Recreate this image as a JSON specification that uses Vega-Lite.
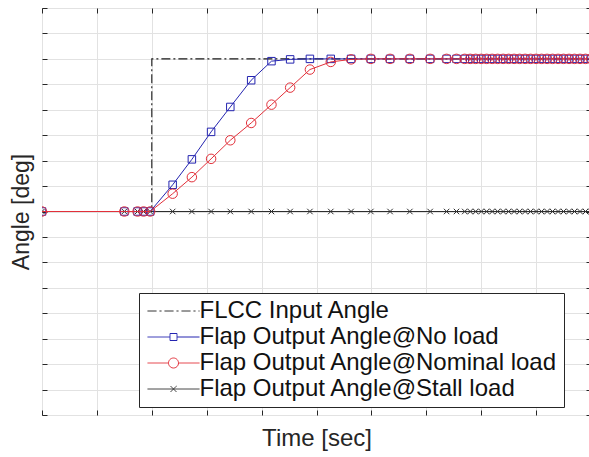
{
  "$schema": "https://vega.github.io/schema/vega-lite/v6.json",
  "width": 549,
  "height": 407,
  "autosize": "none",
  "padding": {"left": 42, "top": 8, "right": 0, "bottom": 42},
  "background": "white",
  "config": {
    "view": {"stroke": "#262626", "strokeWidth": 1},
    "axis": {"labels": false, "domain": false, "tickColor": "#262626", "tickSize": -5, "tickWidth": 1}
  },
  "datasets": {
    "flcc": [
      {"t": 0, "v": 0, "s": "FLCC Input Angle"},
      {"t": 2, "v": 0, "s": "FLCC Input Angle"},
      {"t": 2, "v": 6, "s": "FLCC Input Angle"},
      {"t": 10, "v": 6, "s": "FLCC Input Angle"}
    ],
    "resp": [
      {"t": 0, "s": "Flap Output Angle@No load", "v": 0},
      {"t": 1.5, "s": "Flap Output Angle@No load", "v": 0},
      {"t": 1.74, "s": "Flap Output Angle@No load", "v": 0},
      {"t": 1.85, "s": "Flap Output Angle@No load", "v": 0},
      {"t": 1.97, "s": "Flap Output Angle@No load", "v": 0},
      {"t": 2.38, "s": "Flap Output Angle@No load", "v": 1.05},
      {"t": 2.73, "s": "Flap Output Angle@No load", "v": 2.05},
      {"t": 3.08, "s": "Flap Output Angle@No load", "v": 3.13},
      {"t": 3.43, "s": "Flap Output Angle@No load", "v": 4.11},
      {"t": 3.81, "s": "Flap Output Angle@No load", "v": 5.16},
      {"t": 4.18, "s": "Flap Output Angle@No load", "v": 5.91},
      {"t": 4.52, "s": "Flap Output Angle@No load", "v": 5.98},
      {"t": 4.88, "s": "Flap Output Angle@No load", "v": 6},
      {"t": 5.26, "s": "Flap Output Angle@No load", "v": 6},
      {"t": 5.63, "s": "Flap Output Angle@No load", "v": 6},
      {"t": 5.99, "s": "Flap Output Angle@No load", "v": 6},
      {"t": 6.34, "s": "Flap Output Angle@No load", "v": 6},
      {"t": 6.7, "s": "Flap Output Angle@No load", "v": 6},
      {"t": 7.07, "s": "Flap Output Angle@No load", "v": 6},
      {"t": 7.37, "s": "Flap Output Angle@No load", "v": 6},
      {"t": 7.55, "s": "Flap Output Angle@No load", "v": 6},
      {"t": 7.7, "s": "Flap Output Angle@No load", "v": 6},
      {"t": 7.8, "s": "Flap Output Angle@No load", "v": 6},
      {"t": 7.9, "s": "Flap Output Angle@No load", "v": 6},
      {"t": 8.0, "s": "Flap Output Angle@No load", "v": 6},
      {"t": 8.1, "s": "Flap Output Angle@No load", "v": 6},
      {"t": 8.2, "s": "Flap Output Angle@No load", "v": 6},
      {"t": 8.3, "s": "Flap Output Angle@No load", "v": 6},
      {"t": 8.4, "s": "Flap Output Angle@No load", "v": 6},
      {"t": 8.5, "s": "Flap Output Angle@No load", "v": 6},
      {"t": 8.6, "s": "Flap Output Angle@No load", "v": 6},
      {"t": 8.7, "s": "Flap Output Angle@No load", "v": 6},
      {"t": 8.8, "s": "Flap Output Angle@No load", "v": 6},
      {"t": 8.9, "s": "Flap Output Angle@No load", "v": 6},
      {"t": 9.0, "s": "Flap Output Angle@No load", "v": 6},
      {"t": 9.1, "s": "Flap Output Angle@No load", "v": 6},
      {"t": 9.2, "s": "Flap Output Angle@No load", "v": 6},
      {"t": 9.3, "s": "Flap Output Angle@No load", "v": 6},
      {"t": 9.4, "s": "Flap Output Angle@No load", "v": 6},
      {"t": 9.5, "s": "Flap Output Angle@No load", "v": 6},
      {"t": 9.6, "s": "Flap Output Angle@No load", "v": 6},
      {"t": 9.7, "s": "Flap Output Angle@No load", "v": 6},
      {"t": 9.8, "s": "Flap Output Angle@No load", "v": 6},
      {"t": 9.9, "s": "Flap Output Angle@No load", "v": 6},
      {"t": 10.0, "s": "Flap Output Angle@No load", "v": 6},

      {"t": 0, "s": "Flap Output Angle@Nominal load", "v": 0},
      {"t": 1.5, "s": "Flap Output Angle@Nominal load", "v": 0},
      {"t": 1.74, "s": "Flap Output Angle@Nominal load", "v": 0},
      {"t": 1.85, "s": "Flap Output Angle@Nominal load", "v": 0},
      {"t": 1.97, "s": "Flap Output Angle@Nominal load", "v": 0},
      {"t": 2.38, "s": "Flap Output Angle@Nominal load", "v": 0.7},
      {"t": 2.73, "s": "Flap Output Angle@Nominal load", "v": 1.35},
      {"t": 3.08, "s": "Flap Output Angle@Nominal load", "v": 2.07},
      {"t": 3.43, "s": "Flap Output Angle@Nominal load", "v": 2.8},
      {"t": 3.81, "s": "Flap Output Angle@Nominal load", "v": 3.48},
      {"t": 4.18, "s": "Flap Output Angle@Nominal load", "v": 4.2},
      {"t": 4.52, "s": "Flap Output Angle@Nominal load", "v": 4.87},
      {"t": 4.88, "s": "Flap Output Angle@Nominal load", "v": 5.58},
      {"t": 5.26, "s": "Flap Output Angle@Nominal load", "v": 5.88},
      {"t": 5.63, "s": "Flap Output Angle@Nominal load", "v": 5.98},
      {"t": 5.99, "s": "Flap Output Angle@Nominal load", "v": 6},
      {"t": 6.34, "s": "Flap Output Angle@Nominal load", "v": 6},
      {"t": 6.7, "s": "Flap Output Angle@Nominal load", "v": 6},
      {"t": 7.07, "s": "Flap Output Angle@Nominal load", "v": 6},
      {"t": 7.37, "s": "Flap Output Angle@Nominal load", "v": 6},
      {"t": 7.55, "s": "Flap Output Angle@Nominal load", "v": 6},
      {"t": 7.7, "s": "Flap Output Angle@Nominal load", "v": 6},
      {"t": 7.8, "s": "Flap Output Angle@Nominal load", "v": 6},
      {"t": 7.9, "s": "Flap Output Angle@Nominal load", "v": 6},
      {"t": 8.0, "s": "Flap Output Angle@Nominal load", "v": 6},
      {"t": 8.1, "s": "Flap Output Angle@Nominal load", "v": 6},
      {"t": 8.2, "s": "Flap Output Angle@Nominal load", "v": 6},
      {"t": 8.3, "s": "Flap Output Angle@Nominal load", "v": 6},
      {"t": 8.4, "s": "Flap Output Angle@Nominal load", "v": 6},
      {"t": 8.5, "s": "Flap Output Angle@Nominal load", "v": 6},
      {"t": 8.6, "s": "Flap Output Angle@Nominal load", "v": 6},
      {"t": 8.7, "s": "Flap Output Angle@Nominal load", "v": 6},
      {"t": 8.8, "s": "Flap Output Angle@Nominal load", "v": 6},
      {"t": 8.9, "s": "Flap Output Angle@Nominal load", "v": 6},
      {"t": 9.0, "s": "Flap Output Angle@Nominal load", "v": 6},
      {"t": 9.1, "s": "Flap Output Angle@Nominal load", "v": 6},
      {"t": 9.2, "s": "Flap Output Angle@Nominal load", "v": 6},
      {"t": 9.3, "s": "Flap Output Angle@Nominal load", "v": 6},
      {"t": 9.4, "s": "Flap Output Angle@Nominal load", "v": 6},
      {"t": 9.5, "s": "Flap Output Angle@Nominal load", "v": 6},
      {"t": 9.6, "s": "Flap Output Angle@Nominal load", "v": 6},
      {"t": 9.7, "s": "Flap Output Angle@Nominal load", "v": 6},
      {"t": 9.8, "s": "Flap Output Angle@Nominal load", "v": 6},
      {"t": 9.9, "s": "Flap Output Angle@Nominal load", "v": 6},
      {"t": 10.0, "s": "Flap Output Angle@Nominal load", "v": 6},

      {"t": 0, "s": "Flap Output Angle@Stall load", "v": 0},
      {"t": 1.5, "s": "Flap Output Angle@Stall load", "v": 0},
      {"t": 1.74, "s": "Flap Output Angle@Stall load", "v": 0},
      {"t": 1.85, "s": "Flap Output Angle@Stall load", "v": 0},
      {"t": 1.97, "s": "Flap Output Angle@Stall load", "v": 0},
      {"t": 2.38, "s": "Flap Output Angle@Stall load", "v": 0},
      {"t": 2.73, "s": "Flap Output Angle@Stall load", "v": 0},
      {"t": 3.08, "s": "Flap Output Angle@Stall load", "v": 0},
      {"t": 3.43, "s": "Flap Output Angle@Stall load", "v": 0},
      {"t": 3.81, "s": "Flap Output Angle@Stall load", "v": 0},
      {"t": 4.18, "s": "Flap Output Angle@Stall load", "v": 0},
      {"t": 4.52, "s": "Flap Output Angle@Stall load", "v": 0},
      {"t": 4.88, "s": "Flap Output Angle@Stall load", "v": 0},
      {"t": 5.26, "s": "Flap Output Angle@Stall load", "v": 0},
      {"t": 5.63, "s": "Flap Output Angle@Stall load", "v": 0},
      {"t": 5.99, "s": "Flap Output Angle@Stall load", "v": 0},
      {"t": 6.34, "s": "Flap Output Angle@Stall load", "v": 0},
      {"t": 6.7, "s": "Flap Output Angle@Stall load", "v": 0},
      {"t": 7.07, "s": "Flap Output Angle@Stall load", "v": 0},
      {"t": 7.37, "s": "Flap Output Angle@Stall load", "v": 0},
      {"t": 7.55, "s": "Flap Output Angle@Stall load", "v": 0},
      {"t": 7.7, "s": "Flap Output Angle@Stall load", "v": 0},
      {"t": 7.8, "s": "Flap Output Angle@Stall load", "v": 0},
      {"t": 7.9, "s": "Flap Output Angle@Stall load", "v": 0},
      {"t": 8.0, "s": "Flap Output Angle@Stall load", "v": 0},
      {"t": 8.1, "s": "Flap Output Angle@Stall load", "v": 0},
      {"t": 8.2, "s": "Flap Output Angle@Stall load", "v": 0},
      {"t": 8.3, "s": "Flap Output Angle@Stall load", "v": 0},
      {"t": 8.4, "s": "Flap Output Angle@Stall load", "v": 0},
      {"t": 8.5, "s": "Flap Output Angle@Stall load", "v": 0},
      {"t": 8.6, "s": "Flap Output Angle@Stall load", "v": 0},
      {"t": 8.7, "s": "Flap Output Angle@Stall load", "v": 0},
      {"t": 8.8, "s": "Flap Output Angle@Stall load", "v": 0},
      {"t": 8.9, "s": "Flap Output Angle@Stall load", "v": 0},
      {"t": 9.0, "s": "Flap Output Angle@Stall load", "v": 0},
      {"t": 9.1, "s": "Flap Output Angle@Stall load", "v": 0},
      {"t": 9.2, "s": "Flap Output Angle@Stall load", "v": 0},
      {"t": 9.3, "s": "Flap Output Angle@Stall load", "v": 0},
      {"t": 9.4, "s": "Flap Output Angle@Stall load", "v": 0},
      {"t": 9.5, "s": "Flap Output Angle@Stall load", "v": 0},
      {"t": 9.6, "s": "Flap Output Angle@Stall load", "v": 0},
      {"t": 9.7, "s": "Flap Output Angle@Stall load", "v": 0},
      {"t": 9.8, "s": "Flap Output Angle@Stall load", "v": 0},
      {"t": 9.9, "s": "Flap Output Angle@Stall load", "v": 0},
      {"t": 10.0, "s": "Flap Output Angle@Stall load", "v": 0}
    ]
  },
  "resolve": {"axis": {"x": "independent", "y": "independent"}},
  "layer": [
    {
      "data": {"name": "flcc"},
      "mark": {"type": "line", "strokeWidth": 1.1, "strokeDash": [9, 3, 2, 3], "clip": true},
      "encoding": {
        "x": {"field": "t", "type": "quantitative", "scale": {"domain": [0, 10], "nice": false, "zero": false},
          "axis": {"orient": "bottom", "values": [0,1,2,3,4,5,6,7,8,9,10], "grid": true, "gridColor": "#e2e2e2", "gridWidth": 1,
            "title": "Time [sec]", "titleFont": "Liberation Sans", "titleFontSize": 24, "titleFontWeight": "normal", "titleColor": "#262626", "titlePadding": 11}},
        "y": {"field": "v", "type": "quantitative", "scale": {"domain": [-8, 8], "nice": false, "zero": false},
          "axis": {"orient": "left", "values": [-8,-7,-6,-5,-4,-3,-2,-1,0,1,2,3,4,5,6,7,8], "grid": true, "gridColor": "#e2e2e2", "gridWidth": 1,
            "title": "Angle [deg]", "titleFont": "Liberation Sans", "titleFontSize": 23, "titleFontWeight": "normal", "titleColor": "#262626", "titlePadding": 8}},
        "color": {"field": "s", "type": "nominal",
          "scale": {"domain": ["FLCC Input Angle", "Flap Output Angle@No load", "Flap Output Angle@Nominal load", "Flap Output Angle@Stall load"],
                    "range": ["#1a1a1a", "#2424b0", "#e2303a", "#2e2e2e"]},
          "legend": {
            "title": null, "orient": "none", "legendX": 97, "legendY": 285,
            "strokeColor": "#262626", "fillColor": "white", "padding": 6,
            "labelFont": "Liberation Sans", "labelFontSize": 24, "labelColor": "#111111", "labelLimit": 600,
            "symbolSize": 100, "symbolStrokeWidth": 1, "rowPadding": 2, "symbolOffset": 16.5, "labelOffset": 14,
            "encode": {"symbols": {"update": {
              "fill": {"value": "transparent"},
              "strokeDash": {"value": [1, 0]},
              "shape": {"signal": "datum.value === 'FLCC Input Angle' ? 'M-5.2,0H-3.4M-2.8,0H-2.4M-1.8,0H0M0.6,0H1M1.6,0H3.4M4,0H4.4M5,0H5.2' : datum.value === 'Flap Output Angle@No load' ? 'M-5.2,0H-0.7M0.7,0H5.2M-0.7,-0.7H0.7V0.7H-0.7Z' : datum.value === 'Flap Output Angle@Nominal load' ? 'M-5.2,0H-1M1,0H5.2M1,0A1,1 0 1,1 -1,0A1,1 0 1,1 1,0' : 'M-5.2,0H5.2M-0.6,-0.6L0.6,0.6M-0.6,0.6L0.6,-0.6'"}
            }}}
          }}
      }
    },
    {
      "data": {"name": "resp"},
      "transform": [{"filter": "datum.s === 'Flap Output Angle@Stall load'"}],
      "mark": {"type": "line", "strokeWidth": 1, "clip": true},
      "encoding": {
        "x": {"field": "t", "type": "quantitative", "axis": null},
        "y": {"field": "v", "type": "quantitative", "axis": null},
        "color": {"field": "s", "type": "nominal"}
      }
    },
    {
      "data": {"name": "resp"},
      "transform": [{"filter": "datum.s === 'Flap Output Angle@Stall load'"}],
      "mark": {"type": "point", "filled": false, "shape": "M-1,-1L1,1M-1,1L1,-1", "size": 30, "strokeWidth": 1, "opacity": 1, "clip": true},
      "encoding": {
        "x": {"field": "t", "type": "quantitative", "axis": null},
        "y": {"field": "v", "type": "quantitative", "axis": null},
        "color": {"field": "s", "type": "nominal"}
      }
    },
    {
      "data": {"name": "resp"},
      "transform": [{"filter": "datum.s === 'Flap Output Angle@No load'"}],
      "mark": {"type": "line", "strokeWidth": 1, "clip": true},
      "encoding": {
        "x": {"field": "t", "type": "quantitative", "axis": null},
        "y": {"field": "v", "type": "quantitative", "axis": null},
        "color": {"field": "s", "type": "nominal"}
      }
    },
    {
      "data": {"name": "resp"},
      "transform": [{"filter": "datum.s === 'Flap Output Angle@No load'"}],
      "mark": {"type": "point", "filled": false, "shape": "square", "size": 56, "strokeWidth": 1, "opacity": 1, "clip": true},
      "encoding": {
        "x": {"field": "t", "type": "quantitative", "axis": null},
        "y": {"field": "v", "type": "quantitative", "axis": null},
        "color": {"field": "s", "type": "nominal"}
      }
    },
    {
      "data": {"name": "resp"},
      "transform": [{"filter": "datum.s === 'Flap Output Angle@Nominal load'"}],
      "mark": {"type": "line", "strokeWidth": 1, "clip": true},
      "encoding": {
        "x": {"field": "t", "type": "quantitative", "axis": null},
        "y": {"field": "v", "type": "quantitative", "axis": null},
        "color": {"field": "s", "type": "nominal"}
      }
    },
    {
      "data": {"name": "resp"},
      "transform": [{"filter": "datum.s === 'Flap Output Angle@Nominal load'"}],
      "mark": {"type": "point", "filled": false, "shape": "circle", "size": 90, "strokeWidth": 1, "opacity": 1, "clip": true},
      "encoding": {
        "x": {"field": "t", "type": "quantitative",
          "axis": {"orient": "top", "values": [0,1,2,3,4,5,6,7,8,9,10], "grid": false, "title": null}},
        "y": {"field": "v", "type": "quantitative",
          "axis": {"orient": "right", "values": [-8,-7,-6,-5,-4,-3,-2,-1,0,1,2,3,4,5,6,7,8], "grid": false, "title": null}},
        "color": {"field": "s", "type": "nominal"}
      }
    }
  ]
}
